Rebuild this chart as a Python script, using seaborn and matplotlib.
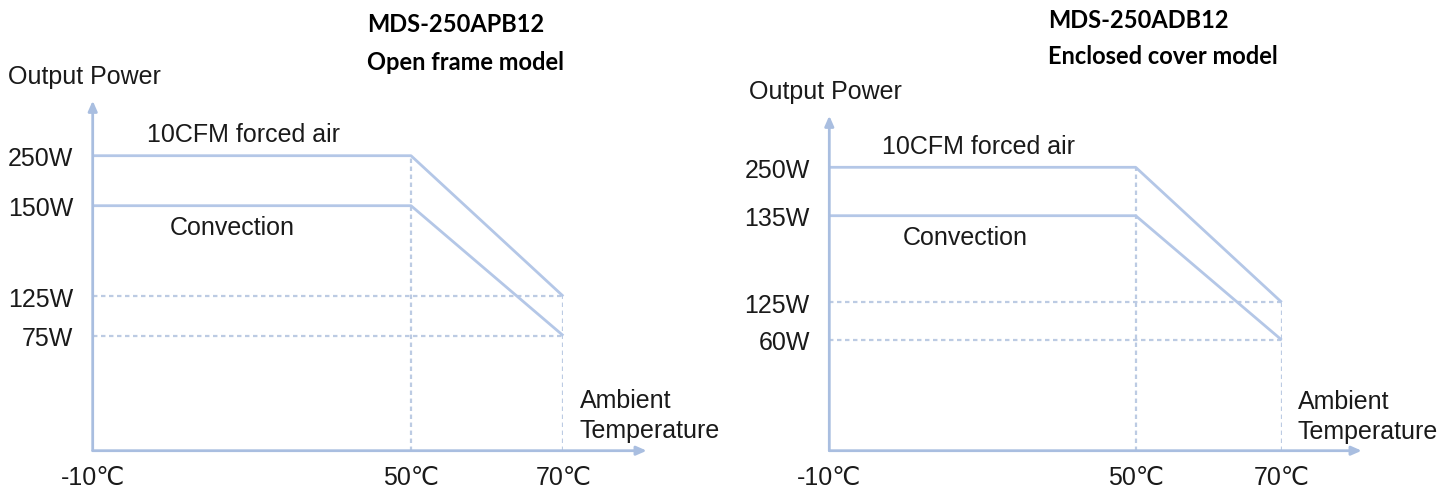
import numpy as np
import pandas as pd
import matplotlib
matplotlib.use("Agg")
import matplotlib.pyplot as plt
import seaborn as sns

# ---------------- data ----------------
temps = [-10, 50, 70]
temp_labels = ["-10℃", "50℃", "70℃"]

left_forced = [250, 250, 125]
left_conv = [150, 150, 75]
left_ticks = [250, 150, 125, 75]
left_tick_labels = ["250W", "150W", "125W", "75W"]

right_forced = [250, 250, 125]
right_conv = [135, 135, 60]
right_ticks = [250, 135, 125, 60]
right_tick_labels = ["250W", "135W", "125W", "60W"]

titles = [("MDS-250APB12", "Open frame model"), ("MDS-250ADB12", "Enclosed cover model")]

# ---------------- style ----------------
sns.set_theme(style="white")
FONT = ["Liberation Sans", "DejaVu Sans"]
plt.rcParams["font.family"] = FONT

W, H = 1451, 489
LINE = "#b4c7e7"
AXC = "#a9bee0"
DOT = "#bccbe3"
TXT = "#1a1a1a"
FS = 18

fig = plt.figure(figsize=(W / 100, H / 100), dpi=100)


def fx(px):
    return px / W


def fy(py):
    return 1 - py / H


def make_scale(vals, pos):
    vals = np.asarray(vals, float)
    pos = np.asarray(pos, float)
    o = np.argsort(vals)
    v, p = vals[o], pos[o]
    fwd = lambda a: np.interp(a, v, p)
    inv = lambda a: np.interp(a, p, v)
    return fwd, inv


def panel(rect_px, x_pos, y_vals, y_pos, forced, conv, ticks, tick_labels, arrow_x, arrow_y):
    left, bottom, right, top = rect_px
    ax = fig.add_axes([fx(left), fy(bottom), (right - left) / W, (bottom - top) / H])
    ax.set_xscale("function", functions=make_scale(temps, x_pos))
    ax.set_yscale("function", functions=make_scale(y_vals, y_pos))
    ax.set_xlim(temps[0], temps[-1])
    ax.set_ylim(0, max(forced))
    for s in ax.spines.values():
        s.set_visible(False)
    ax.set_facecolor("none")

    # dotted guides
    ax.hlines([forced[-1], conv[-1]], temps[0], temps[-1], colors=DOT, linestyles=(0, (2, 1.6)), lw=1.6, zorder=1)
    ax.vlines(temps[1], 0, forced[0], colors=DOT, linestyles=(0, (2, 1.6)), lw=1.6, zorder=1)
    ax.vlines(temps[2], 0, forced[-1], colors=DOT, linestyles=(0, (2, 1.6)), lw=1.6, zorder=1)

    df = pd.DataFrame({
        "temp": temps * 2,
        "power": forced + conv,
        "mode": ["forced"] * 3 + ["conv"] * 3,
    })
    sns.lineplot(data=df, x="temp", y="power", hue="mode", palette=[LINE, LINE],
                 lw=2.0, ax=ax, legend=False, sort=False, zorder=3)
    for l in ax.lines:
        l.set_clip_on(False)
        l.set_solid_capstyle("butt")

    # axes with arrows
    ax.annotate("", xy=(0, arrow_y), xytext=(0, 0), xycoords="axes fraction",
                arrowprops=dict(arrowstyle="-|>,head_length=0.5,head_width=0.22", color=AXC, lw=2.0,
                                shrinkA=0, shrinkB=0), annotation_clip=False)
    ax.annotate("", xy=(arrow_x, 0), xytext=(0, 0), xycoords="axes fraction",
                arrowprops=dict(arrowstyle="-|>,head_length=0.5,head_width=0.22", color=AXC, lw=2.0,
                                shrinkA=0, shrinkB=0), annotation_clip=False)

    ax.set_xticks(temps)
    ax.set_xticklabels(temp_labels)
    ax.set_yticks(ticks)
    ax.set_yticklabels(tick_labels)
    ax.minorticks_off()
    ax.tick_params(axis="x", length=0, pad=10, labelsize=FS, labelcolor=TXT)
    ax.tick_params(axis="y", length=0, pad=14, labelsize=FS, labelcolor=TXT)
    ax.set_xlabel("")
    ax.set_ylabel("")
    ax.grid(False)
    return ax


# left panel
panel((92.7, 451.7, 563.3, 156.7), [0, 318.3, 470.6], [0, 75, 125, 150, 250],
      [0, 115, 154.4, 245, 295], left_forced, left_conv, left_ticks, left_tick_labels,
      (646.7 - 92.7) / 470.6, (451.7 - 101.7) / 295)

# right panel
panel((829.3, 451.7, 1281.7, 168.3), [0, 306.4, 452.4], [0, 60, 125, 135, 250],
      [0, 110.7, 148.4, 235, 283.4], right_forced, right_conv, right_ticks, right_tick_labels,
      (1361.7 - 829.3) / 452.4, (451.7 - 116.7) / 283.4)


def t(x, y, s, **kw):
    kw.setdefault("fontsize", FS)
    kw.setdefault("color", TXT)
    fig.text(fx(x), fy(y), s, ha="left", va="center", **kw)


# left texts
t(8, 77, "Output Power")
t(147, 135, "10CFM forced air")
t(170, 228, "Convection")
t(580, 416, "Ambient\nTemperature", linespacing=1.32)
# right texts
t(749, 92, "Output Power")
t(882, 147, "10CFM forced air")
t(903, 238, "Convection")
t(1298, 417, "Ambient\nTemperature", linespacing=1.32)

# titles
for (a, b), x0, y0 in zip(titles, [367, 1048], [25, 20]):
    t(x0, y0, a, family=["Lato", "DejaVu Sans"], fontweight="bold", fontsize=17, color="black")
    t(x0, y0 + 37, b, family=["Lato", "DejaVu Sans"], fontweight="bold", fontsize=17, color="black")

fig.savefig("out.png", dpi=100)
